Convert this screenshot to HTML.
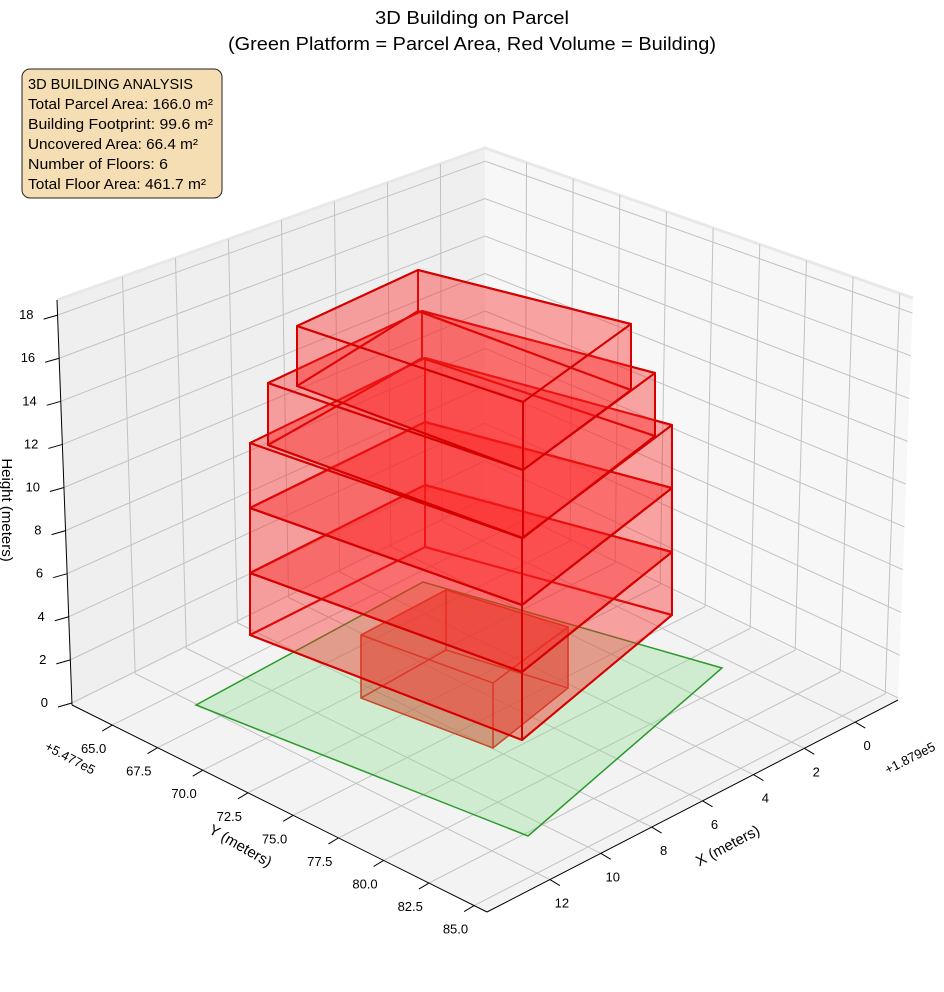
<!DOCTYPE html>
<html><head><meta charset="utf-8"><style>
body{margin:0;background:#fff;}
svg{display:block;font-family:"Liberation Sans",sans-serif;}
</style></head><body>
<svg id="s" width="944" height="992" viewBox="0 0 944 992" xmlns="http://www.w3.org/2000/svg">
<text x="472" y="24" font-size="18" text-anchor="middle" textLength="194" lengthAdjust="spacingAndGlyphs">3D Building on Parcel</text>
<text x="472" y="50" font-size="18" text-anchor="middle" textLength="488" lengthAdjust="spacingAndGlyphs">(Green Platform = Parcel Area, Red Volume = Building)</text>
<g id="axes"></g>
<g id="bld"></g>
<rect x="22" y="69" width="200" height="129" rx="8" fill="#f5deb3" stroke="#222" stroke-width="1"/>
<g font-size="14.5">
<text x="28" y="89" textLength="165" lengthAdjust="spacingAndGlyphs">3D BUILDING ANALYSIS</text>
<text x="28" y="109" textLength="185" lengthAdjust="spacingAndGlyphs">Total Parcel Area: 166.0 m²</text>
<text x="28" y="129" textLength="185" lengthAdjust="spacingAndGlyphs">Building Footprint: 99.6 m²</text>
<text x="28" y="149" textLength="170" lengthAdjust="spacingAndGlyphs">Uncovered Area: 66.4 m²</text>
<text x="28" y="169" textLength="140" lengthAdjust="spacingAndGlyphs">Number of Floors: 6</text>
<text x="28" y="189" textLength="178" lengthAdjust="spacingAndGlyphs">Total Floor Area: 461.7 m²</text>
</g>
</svg>
<script>
var NS="http://www.w3.org/2000/svg";
function el(p,t,a,txt){var e=document.createElementNS(NS,t);for(var k in a)e.setAttribute(k,a[k]);if(txt!==undefined)e.textContent=txt;p.appendChild(e);return e;}
var ax=document.getElementById('axes'),bd=document.getElementById('bld');
var A=[72,705],F=[487,912],R=[898,700],B=[485,500],At=[57,300],Bt=[485,148],Rt=[913,298];
function L(p,q,t){return [p[0]+(q[0]-p[0])*t,p[1]+(q[1]-p[1])*t];}
function pts(a){return a.map(function(p){return p[0].toFixed(1)+','+p[1].toFixed(1)}).join(' ');}
el(ax,'polygon',{points:pts([At,Bt,B,A]),fill:'#efefef'});
el(ax,'polygon',{points:pts([Bt,Rt,R,B]),fill:'#f7f7f7'});
el(ax,'polygon',{points:pts([A,B,R,F]),fill:'#f3f3f3'});
el(ax,'polyline',{points:pts([At,Bt,Rt]),fill:'none',stroke:'#e8e8e8','stroke-width':3});
function sx(x){return 0.153+(12-x)*0.0619;}
function sy(y){return 0.097+(y-65)/2.5*0.109;}
function tz(z){return 0.005+z*0.0532;}
function line(p,q,c,w){el(ax,'line',{x1:p[0],y1:p[1],x2:q[0],y2:q[1],stroke:c,'stroke-width':w||1});}
var g='#c2c2c2';
for(var x=0;x<=12;x+=2){var v=sx(x);
 var a=L(A,B,v),b=L(F,R,v),c=L(At,Bt,v);line(a,b,g);line(a,c,g);}
for(var y=65;y<=85;y+=2.5){var u=sy(y);
 var a=L(A,F,u),b=L(B,R,u),c=L(Bt,Rt,u);line(a,b,g);line(b,c,g);}
for(var z=0;z<=18;z+=2){var t=tz(z);
 var a=L(A,At,t),b=L(B,Bt,t),c=L(R,Rt,t);line(a,b,g);line(b,c,g);}
line(At,A,'#000',1);line(A,F,'#000',1);line(F,R,'#000',1);
for(var z=0;z<=18;z+=2){var p=L(A,At,tz(z));line(p,[p[0]-14,p[1]+4],'#000',1);
 el(ax,'text',{x:p[0]-24,y:p[1]+4,'font-size':13,'text-anchor':'end'},String(z));}
for(var y=65;y<=85;y+=2.5){var p=L(A,F,sy(y));line(p,[p[0]-10,p[1]+6],'#000',1);
 el(ax,'text',{x:p[0]-6,y:p[1]+28,'font-size':13,'text-anchor':'end'},y.toFixed(1));}
for(var x=0;x<=12;x+=2){var p=L(F,R,sx(x));line(p,[p[0]+10,p[1]+6],'#000',1);
 el(ax,'text',{x:p[0]+12,y:p[1]+28,'font-size':13,'text-anchor':'middle'},String(x));}
el(ax,'text',{x:68,y:762,'font-size':13,'text-anchor':'middle',transform:'rotate(28 68 762)'},'+5.477e5');
el(ax,'text',{x:912,y:762,'font-size':13,'text-anchor':'middle',transform:'rotate(-27 912 762)'},'+1.879e5');
el(ax,'text',{x:238,y:850,'font-size':15,'text-anchor':'middle',transform:'rotate(30 238 850)'},'Y (meters)');
el(ax,'text',{x:730,y:850,'font-size':15,'text-anchor':'middle',transform:'rotate(-28 730 850)'},'X (meters)');
el(ax,'text',{x:2,y:510,'font-size':15,'text-anchor':'middle',transform:'rotate(90 2 510)'},'Height (meters)');
el(bd,'polygon',{points:pts([[196,705],[423,582],[722,668],[528,836]]),fill:'rgba(144,224,144,0.35)',stroke:'#2a9a2a','stroke-width':1.5});
function box(l,f,r,b,fill,st,sw){
 var T=[[l[0],l[1]],[f[0],f[1]],[r[0],r[1]],[b[0],b[1]]],Bo=[[l[0],l[2]],[f[0],f[2]],[r[0],r[2]],[b[0],b[2]]];
 var faces=[[Bo[0],Bo[1],Bo[2],Bo[3]],[T[3],T[0],Bo[0],Bo[3]],[T[2],T[3],Bo[3],Bo[2]],[T[0],T[1],Bo[1],Bo[0]],[T[1],T[2],Bo[2],Bo[1]],T];
 faces.forEach(function(fc){el(bd,'polygon',{points:pts(fc),fill:fill,stroke:st,'stroke-width':sw,'stroke-linejoin':'round'});});
}
box([361,635,698],[493,683,748],[568,627,688],[446,590,650],'rgba(205,75,45,0.3)','#c84a2e',1.4);
var lv=[[443,508],[508,573],[573,635]],fv=[[538,605],[605,672],[672,740]],rv=[[425,488],[488,552],[552,615]],bv=[[358,422],[422,485],[485,547]];
for(var i=2;i>=0;i--){box([250,lv[i][0],lv[i][1]],[522,fv[i][0],fv[i][1]],[672,rv[i][0],rv[i][1]],[425,bv[i][0],bv[i][1]],'rgba(255,30,30,0.22)','#d60000',2);}
box([268,383,445],[523,470,538],[655,373,436],[422,311,358],'rgba(255,30,30,0.22)','#d60000',2);
box([297,326,386],[523,402,470],[631,324,390],[418,270,311],'rgba(255,30,30,0.22)','#d60000',2);
</script>
</body></html>
